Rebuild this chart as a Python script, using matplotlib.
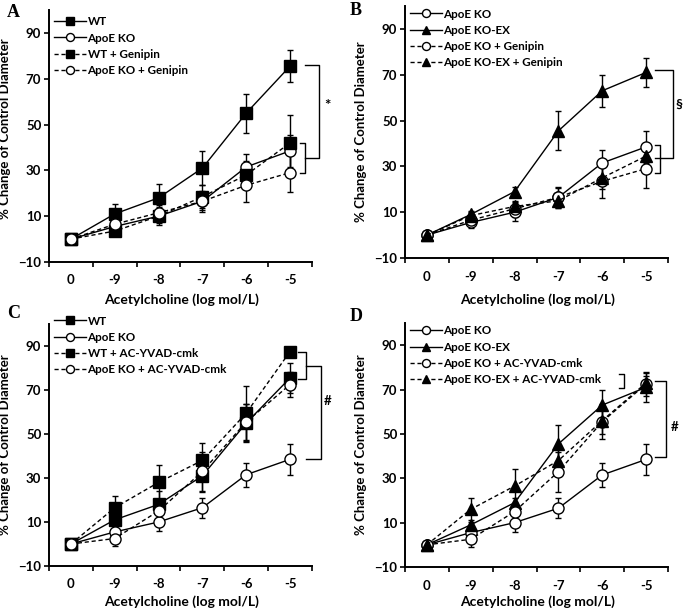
import numpy as np
import matplotlib
matplotlib.use('Agg')
import matplotlib.pyplot as plt
from matplotlib.lines import Line2D

plt.rcParams['font.family'] = ['Lato', 'DejaVu Sans']
plt.rcParams['font.weight'] = 'bold'

# Acetylcholine doses (categories)
doses = ['0', '-9', '-8', '-7', '-6', '-5']

# mean % change of control diameter, and error (SEM)
wt = [0, 11, 18, 31, 55, 75.5]
wt_err = [0, 4.5, 6, 7.5, 8.5, 7]
apoe = [0, 5.5, 10, 16.5, 31.5, 38.5]
apoe_err = [0, 2.5, 4, 4.5, 5.5, 7]
wt_gen = [0, 3.5, 10, 18.5, 28, 42]
wt_gen_err = [0, 2, 3, 5, 6, 12]
apoe_gen = [0, 6.5, 11.5, 16.5, 23.5, 29]
apoe_gen_err = [0, 2.5, 3.5, 4, 7.5, 8.5]
ex = [0, 9, 19, 45.5, 63, 71]
ex_err = [0, 1.5, 2, 8.5, 7, 6.5]
ex_gen = [0, 8.5, 12.5, 15, 25, 34.5]
ex_gen_err = [0, 1.5, 2, 3, 5, 5]
wt_ac = [0, 16.5, 28, 38, 59.5, 87.5]
wt_ac_err = [0, 5.5, 8, 8, 12.5, 1]
apoe_ac = [0, 2.5, 15, 33, 55.5, 72.5]
apoe_ac_err = [0, 3.5, 4, 9, 8, 5.5]
ex_ac = [0, 16, 26.5, 38, 56, 73]
ex_ac_err = [0, 5, 7.5, 7, 6, 3]

x = np.arange(len(doses))

fig = plt.figure(figsize=(6.85, 6.08), dpi=100)

W = 263 / 685
axA = fig.add_axes([49 / 685, 1 - 262 / 608, W, 252 / 608])
axB = fig.add_axes([405 / 685, 1 - 258 / 608, W, 252 / 608])
axC = fig.add_axes([49 / 685, 1 - 566 / 608, W, 242 / 608])
axD = fig.add_axes([405 / 685, 1 - 567 / 608, W, 244 / 608])


def series(ax, y, err, marker, fill, ls, label):
    dash = (3, 2) if ls == '--' else (None, None)
    ms = 8 if marker != '^' else 8.5
    ax.errorbar(x, y, yerr=err, color='k', lw=1, ls=ls, marker=marker,
                ms=ms, mfc=fill, mec='k', mew=1,
                capsize=2.5, elinewidth=1, capthick=1,
                dashes=dash, zorder=3)
    return Line2D([], [], color='k', lw=1, ls=ls, dashes=dash, marker=marker,
                  ms=ms * 0.72, mfc=fill, mec='k', mew=1, label=label)


def style(ax, handles, leg_top, ylab_y, xlab_y):
    ax.set_xlim(-0.5, 5.5)
    ax.set_ylim(-10, 100)
    ax.set_yticks([-10, 10, 30, 50, 70, 90])
    ax.set_xticks(x)
    ax.set_xticklabels(doses)
    ax.set_xticks(np.arange(-0.5, 6, 1), minor=True)
    ax.tick_params(axis='x', which='major', length=0, pad=9, labelsize=9.5)
    ax.tick_params(axis='x', which='minor', length=3.5, width=1.2, direction='out')
    ax.tick_params(axis='y', length=3.5, width=1.2, labelsize=9.5, pad=2)
    for s in ['top', 'right']:
        ax.spines[s].set_visible(False)
    for s in ['left', 'bottom']:
        ax.spines[s].set_linewidth(1.4)
    ax.set_ylabel('% Change of Control Diameter', fontsize=9.5, fontweight='bold')
    ax.set_xlabel('Acetylcholine (log mol/L)', fontsize=10, fontweight='bold')
    ax.yaxis.set_label_coords(-0.145, ylab_y)
    ax.xaxis.set_label_coords(0.505, xlab_y)
    ax.legend(handles=handles, loc='upper left', bbox_to_anchor=(0.02, leg_top),
              frameon=False, handlelength=2.7, handletextpad=0.15,
              labelspacing=0.45, borderpad=0, borderaxespad=0,
              prop={'weight': 'bold', 'size': 8.4})


def bracket(ax, x0, x1, y0, y1):
    ax.plot([x0, x1, x1, x0], [y0, y0, y1, y1], color='k', lw=1, clip_on=False)


# A
hA = [series(axA, wt, wt_err, 's', 'k', '-', 'WT'),
      series(axA, apoe, apoe_err, 'o', 'white', '-', 'ApoE KO'),
      series(axA, wt_gen, wt_gen_err, 's', 'k', '--', 'WT + Genipin'),
      series(axA, apoe_gen, apoe_gen_err, 'o', 'white', '--', 'ApoE KO + Genipin')]
style(axA, hA, 0.975, 0.53, -0.125)
bracket(axA, 5.23, 5.34, 42, 29)
bracket(axA, 5.34, 5.66, 76, 35.5)
axA.text(5.86, 58, '*', fontsize=11, ha='center', va='center')

# B
hB = [series(axB, apoe, apoe_err, 'o', 'white', '-', 'ApoE KO'),
      series(axB, ex, ex_err, '^', 'k', '-', 'ApoE KO-EX'),
      series(axB, apoe_gen, apoe_gen_err, 'o', 'white', '--', 'ApoE KO + Genipin'),
      series(axB, ex_gen, ex_gen_err, '^', 'k', '--', 'ApoE KO-EX + Genipin')]
style(axB, hB, 0.99, 0.5, -0.14)
bracket(axB, 5.2, 5.32, 39.5, 27)
bracket(axB, 5.2, 5.61, 72, 33.5)
axB.text(5.75, 57, '§', fontsize=10, ha='center', va='center')

# C
hC = [series(axC, wt, wt_err, 's', 'k', '-', 'WT'),
      series(axC, apoe, apoe_err, 'o', 'white', '-', 'ApoE KO'),
      series(axC, wt_ac, wt_ac_err, 's', 'k', '--', 'WT + AC-YVAD-cmk'),
      series(axC, apoe_ac, apoe_ac_err, 'o', 'white', '--', 'ApoE KO + AC-YVAD-cmk')]
style(axC, hC, 1.035, 0.5, -0.122)
bracket(axC, 5.18, 5.36, 87.5, 75)
bracket(axC, 5.36, 5.7, 81, 38.5)
axC.text(5.86, 65, '#', fontsize=9.5, ha='center', va='center')

# D
hD = [series(axD, apoe, apoe_err, 'o', 'white', '-', 'ApoE KO'),
      series(axD, ex, ex_err, '^', 'k', '-', 'ApoE KO-EX'),
      series(axD, apoe_ac, apoe_ac_err, 'o', 'white', '--', 'ApoE KO + AC-YVAD-cmk'),
      series(axD, ex_ac, ex_ac_err, '^', 'k', '--', 'ApoE KO-EX + AC-YVAD-cmk')]
style(axD, hD, 0.99, 0.5, -0.118)
bracket(axD, 4.39, 4.5, 77, 70.6)
bracket(axD, 5.2, 5.45, 74, 39.5)
axD.text(5.65, 53, '#', fontsize=9.5, ha='center', va='center')

for lab, px, py in [('A', 7, 4), ('B', 350, 2), ('C', 7, 305), ('D', 350, 308)]:
    fig.text(px / 685, 1 - py / 608, lab, family='Liberation Serif',
             fontweight='bold', fontsize=13, ha='left', va='top')

fig.savefig('out.png', dpi=100)
